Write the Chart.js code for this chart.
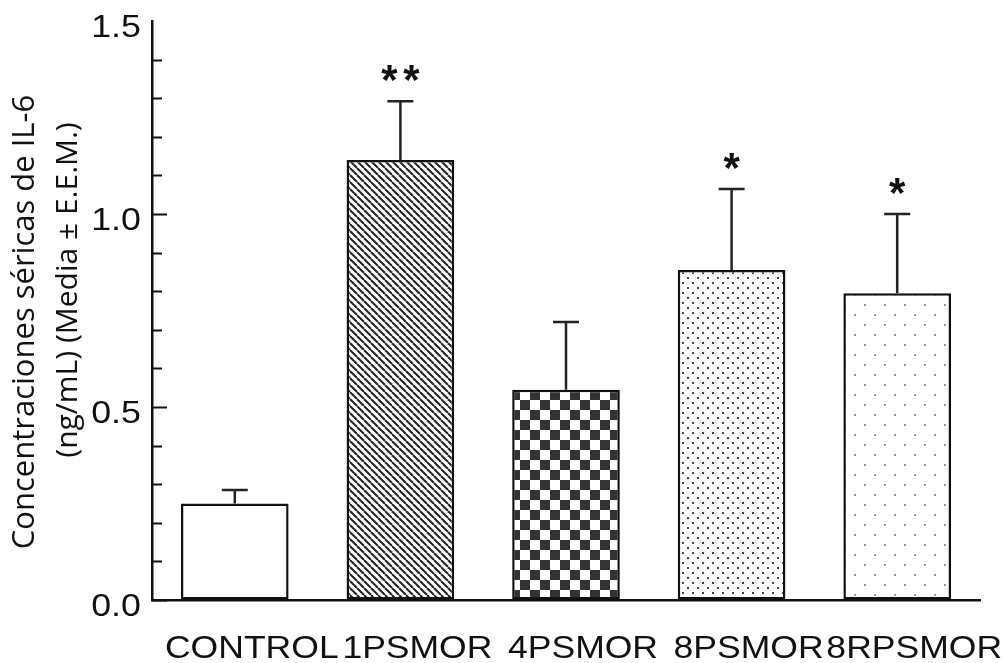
<!DOCTYPE html>
<html>
<head>
<meta charset="utf-8">
<script src="https://cdn.jsdelivr.net/npm/chart.js@4"></script>
<style>
  html, body { margin: 0; padding: 0; background: #fff; }
  #wrap { width: 1007px; height: 663px; }
</style>
</head>
<body>
<div id="wrap"><canvas id="myChart" width="1007" height="663"></canvas></div>
<script>
// valores
const categorias = ['CONTROL', '1PSMOR', '4PSMOR', '8PSMOR', '8RPSMOR']
const medias = [0.25, 1.14, 0.545, 0.855, 0.795]
const eem = [0.035, 0.152, 0.175, 0.21, 0.205]
const marcas = ['', '**', '', '*', '*']
const etiquetasY = [0, 0.5, 1.0, 1.5]
const tituloY = ['Concentraciones séricas de IL-6', '(ng/mL) (Media ± E.E.M.)']

function tile(w, h, draw) {
  const c = document.createElement('canvas')
  c.width = w
  c.height = h
  const g = c.getContext('2d')
  g.fillStyle = '#fff'
  g.fillRect(0, 0, w, h)
  draw(g)
  return g.createPattern(c, 'repeat')
}

// rellenos de las barras
const rayado = tile(7, 7, (g) => {
  g.strokeStyle = '#222'
  g.lineWidth = 2
  g.beginPath()
  for (let k = -7; k <= 7; k += 7) {
    g.moveTo(k, 0)
    g.lineTo(k + 7, 7)
  }
  g.stroke()
})
const ajedrez = tile(20, 20, (g) => {
  g.fillStyle = '#333'
  g.fillRect(0, 0, 10, 10)
  g.fillRect(10, 10, 10, 10)
})
const puntos = tile(10, 10, (g) => {
  g.fillStyle = '#444'
  g.fillRect(2, 2, 2, 2)
  g.fillRect(7, 7, 2, 2)
})
const puntosRalos = tile(20, 20, (g) => {
  g.fillStyle = '#999'
  g.fillRect(4, 4, 2, 2)
  g.fillRect(14, 14, 2, 2)
})

const fuente = '"Liberation Sans", Arial, sans-serif'

const extras = {
  id: 'extras',
  afterDatasetsDraw(chart) {
    const ctx = chart.ctx
    const x = chart.scales.x
    const y = chart.scales.y
    const area = chart.chartArea
    ctx.save()
    // marcas del eje y hacia adentro
    ctx.strokeStyle = '#111'
    ctx.lineWidth = 2
    y.ticks.forEach((t) => {
      if (t.value >= 1.5) return
      const py = Math.round(y.getPixelForValue(t.value)) + 0.5
      const mayor = Math.abs(t.value * 2 - Math.round(t.value * 2)) < 1e-6
      ctx.beginPath()
      ctx.moveTo(area.left, py)
      ctx.lineTo(area.left + (mayor ? 15 : 10), py)
      ctx.stroke()
    })
    // etiquetas del eje y
    ctx.fillStyle = '#111'
    ctx.font = '32px ' + fuente
    ctx.textAlign = 'right'
    ctx.textBaseline = 'alphabetic'
    etiquetasY.forEach((v) => {
      ctx.save()
      ctx.translate(area.left - 11, y.getPixelForValue(v) + 16)
      ctx.scale(1.12, 1)
      ctx.fillText(v.toFixed(1), 0, 0)
      ctx.restore()
    })
    // etiquetas del eje x
    ctx.textAlign = 'center'
    categorias.forEach((c, i) => {
      ctx.save()
      ctx.translate(x.getPixelForValue(i) + 17, 658)
      ctx.scale(1.11, 1)
      ctx.fillText(c, 0, 0)
      ctx.restore()
    })
    // barras de error y asteriscos
    medias.forEach((m, i) => {
      const cx = x.getPixelForValue(i)
      const y0 = y.getPixelForValue(m)
      const y1 = y.getPixelForValue(m + eem[i])
      ctx.strokeStyle = '#222'
      ctx.lineWidth = 2.5
      ctx.beginPath()
      ctx.moveTo(cx, y0)
      ctx.lineTo(cx, y1)
      ctx.moveTo(cx - 13, y1)
      ctx.lineTo(cx + 13, y1)
      ctx.stroke()
      const n = marcas[i].length
      ctx.fillStyle = '#111'
      ctx.font = 'bold 42px ' + fuente
      for (let k = 0; k < n; k++) {
        ctx.fillText('*', cx + (k - (n - 1) / 2) * 22, y1 - 7)
      }
    })
    // titulo del eje y
    ctx.fillStyle = '#111'
    const lineas = [[34, 322, 31], [77, 290, 30]]
    tituloY.forEach((linea, i) => {
      ctx.save()
      ctx.font = lineas[i][2] + 'px "Open Sans", sans-serif'
      ctx.translate(lineas[i][0], lineas[i][1])
      ctx.rotate(-Math.PI / 2)
      ctx.fillText(linea, 0, 0)
      ctx.restore()
    })
    ctx.restore()
  }
}

new Chart(document.getElementById('myChart').getContext('2d'), {
  type: 'bar',
  data: {
    labels: categorias,
    datasets: [{
      data: medias,
      backgroundColor: ['#fff', rayado, ajedrez, puntos, puntosRalos],
      borderColor: '#111',
      borderWidth: 2.5,
      borderSkipped: false,
      barPercentage: 0.65,
      categoryPercentage: 1
    }]
  },
  options: {
    responsive: false,
    animation: false,
    layout: { padding: { top: 21, right: 27, left: 0, bottom: 0 } },
    plugins: { legend: { display: false }, tooltip: { enabled: false } },
    scales: {
      x: {
        grid: { display: false },
        border: { display: true, color: '#111', width: 2.5 },
        ticks: { display: false },
        afterFit: (s) => { s.height = 63 }
      },
      y: {
        min: 0,
        max: 1.5,
        grid: { display: true, drawOnChartArea: false, drawTicks: false },
        border: { display: true, color: '#111', width: 2.5 },
        ticks: { display: false, stepSize: 0.1, autoSkip: false },
        afterFit: (s) => { s.width = 152 }
      }
    }
  },
  plugins: [extras]
})
</script>
</body>
</html>
